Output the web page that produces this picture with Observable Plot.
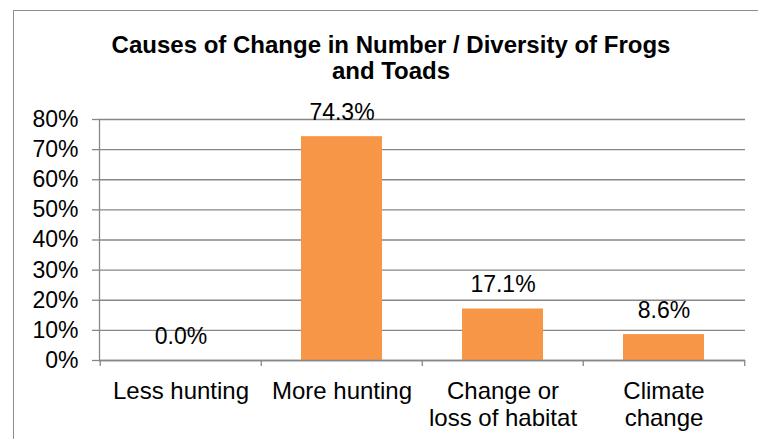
<!DOCTYPE html>
<html>
<head>
<meta charset="utf-8">
<script src="https://cdn.jsdelivr.net/npm/d3@7"></script>
<script src="https://cdn.jsdelivr.net/npm/@observablehq/plot@0.6"></script>
<style>
  html, body { margin: 0; padding: 0; background: #fff; overflow: hidden; }
  #wrap { position: relative; width: 758px; height: 439px; overflow: hidden; }
  #border { position: absolute; left: 13px; top: 10px; width: 900px; height: 600px; border: 1.5px solid #8e8e8e; box-sizing: border-box; pointer-events: none; }
  #title { position: absolute; left: 0; top: 31.5px; width: 782px; text-align: center; font-family: "Liberation Sans", Arial, sans-serif; font-weight: bold; font-size: 24px; line-height: 26.6px; color: #000; }
  #chart { position: absolute; left: 0; top: 0; }
</style>
</head>
<body>
<div id="wrap">
  <div id="border"></div>
  <div id="chart"></div>
  <div id="title">Causes of Change in Number / Diversity of Frogs<br>and Toads</div>
</div>
<script>
const categories = ["Less hunting", "More hunting", "Change or\nloss of habitat", "Climate\nchange"];
const values = [0.0, 0.743, 0.171, 0.086];
const valueLabels = ["0.0%", "74.3%", "17.1%", "8.6%"];
const yTicks = [0, 0.1, 0.2, 0.3, 0.4, 0.5, 0.6, 0.7, 0.8];

const data = categories.map((c, i) => ({cat: c, value: values[i], label: valueLabels[i]}));

const W = 758, H = 439, ML = 99, MR = 13, MT = 119, MB = 79;
const pIn = 0.5, pOut = 0.25;
const step = (W - ML - MR) / (categories.length - pIn + 2 * pOut);
const half = step / 2;
const gridColor = "#878787";
const fmt = d3.format(".0%");

const chart = Plot.plot({
  width: W, height: H,
  marginLeft: ML, marginRight: MR, marginTop: MT, marginBottom: MB,
  style: {fontFamily: "'Liberation Sans', Arial, sans-serif", fontSize: "23px", color: "#000", background: "transparent", overflow: "visible"},
  x: {domain: categories, paddingInner: pIn, paddingOuter: pOut, label: null},
  y: {domain: [0, 0.8], label: null},
  marks: [
    Plot.gridY(yTicks, {stroke: gridColor, strokeOpacity: 1, strokeWidth: 1.3}),
    Plot.axisY(yTicks, {tickSize: 7, tickPadding: 14, stroke: gridColor, strokeWidth: 1.3, tickFormat: fmt, fontSize: 23, label: null}),
    Plot.barY(data, {x: "cat", y: "value", fill: "#F79646"}),
    Plot.ruleY([0], {stroke: gridColor, strokeWidth: 1.3}),
    Plot.frame({anchor: "left", stroke: gridColor, strokeWidth: 1.3}),
    Plot.ruleX(categories, {x: d => d, y1: 0, y2: -0.02, dx: -half, stroke: gridColor, strokeWidth: 1.3}),
    Plot.ruleX(categories.slice(-1), {x: d => d, y1: 0, y2: -0.02, dx: half, stroke: gridColor, strokeWidth: 1.3}),
    Plot.axisX({tickSize: 0, tickPadding: 20, lineHeight: 1.1, fontSize: 24, label: null}),
    Plot.text(data, {x: "cat", y: "value", text: "label", lineAnchor: "bottom", dy: -17, fontSize: 23, fill: "#000"})
  ]
});
document.getElementById("chart").appendChild(chart);
</script>
</body>
</html>
